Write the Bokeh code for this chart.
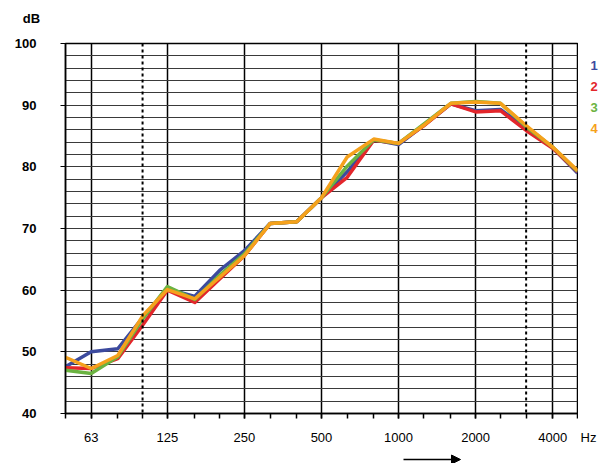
from bokeh.plotting import figure
from bokeh.models import Range1d, FixedTicker, Span, Arrow, NormalHead
from bokeh.layouts import row, column
from bokeh.core.properties import value
from bokeh.embed import file_html
from bokeh.resources import INLINE

freqs = [50, 63, 80, 100, 125, 160, 200, 250, 315, 400, 500, 630, 800,
         1000, 1250, 1600, 2000, 2500, 3150, 4000, 5000]
s1 = [47.6, 50.0, 50.5, 55.5, 60.2, 59.0, 63.2, 66.4, 70.8, 71.1, 75.0, 79.2, 84.4,
      83.6, 86.7, 90.2, 89.1, 89.3, 86.3, 83.1, 79.0]
s2 = [47.4, 47.3, 48.9, 54.3, 60.0, 58.0, 61.8, 65.6, 70.8, 71.1, 75.0, 78.3, 84.3,
      83.8, 86.6, 90.2, 88.9, 89.1, 85.9, 83.0, 79.2]
s3 = [47.0, 46.5, 49.2, 55.3, 60.6, 58.5, 62.4, 65.9, 70.8, 71.1, 75.0, 80.1, 84.4,
      83.8, 86.9, 90.3, 90.6, 90.3, 86.5, 83.2, 79.3]
s4 = [49.1, 47.3, 49.4, 55.8, 60.1, 58.6, 62.1, 65.6, 70.8, 71.1, 75.0, 81.6, 84.5,
      83.8, 86.7, 90.3, 90.5, 90.3, 86.7, 83.2, 79.4]
series_names = ["1", "2", "3", "4"]
colors = ["#3c4a9e", "#e3262b", "#6bb341", "#f5a11c"]

octave_ticks = [63, 125, 250, 500, 1000, 2000, 4000]
octave_labels = ["63", "125", "250", "500", "1000", "2000", "4000"]
dotted_freqs = [100, 3150]
y_major = [40, 50, 60, 70, 80, 90, 100]
y_grid = list(range(40, 101, 2))
y_unit = "dB"
x_unit = "Hz"

FONT = "Liberation Sans"

# layout geometry (page pixels)
W, H = 600, 463
TOP_H = 30          # strip holding "dB"
BOTTOM_H = 13       # strip holding the arrow
MAIN_W = 578        # main figure width (frame right edge at 577)
MAIN_H = H - TOP_H - BOTTOM_H


def blank(width, height, x0, x1, y_top, y_bottom):
    f = figure(width=width, height=height, output_backend="svg",
               toolbar_location=None, x_axis_type=None, y_axis_type=None,
               x_range=Range1d(x0, x1), y_range=Range1d(y_bottom, y_top),
               min_border=0, min_border_left=0, min_border_right=0,
               min_border_top=0, min_border_bottom=0)
    if "frame_align" in f.properties():
        f.frame_align = False
    f.outline_line_color = None
    f.grid.visible = False
    f.background_fill_color = "white"
    f.border_fill_color = "white"
    return f


# ---------------- main chart ----------------
p = figure(width=MAIN_W, height=MAIN_H, x_axis_type="log",
           x_range=Range1d(50, 5000), y_range=Range1d(40, 100),
           output_backend="svg", toolbar_location=None,
           min_border_left=65, min_border_right=1,
           min_border_top=13, min_border_bottom=37)
p.background_fill_color = "white"
p.border_fill_color = "white"
p.outline_line_color = "black"
p.outline_line_width = 1.5

p.xgrid.ticker = FixedTicker(ticks=octave_ticks)
p.xgrid.grid_line_color = "black"
p.xgrid.grid_line_width = 1.5
p.ygrid.ticker = FixedTicker(ticks=y_grid)
p.ygrid.grid_line_color = "#3a3a3a"
p.ygrid.grid_line_width = 1.2
for f in dotted_freqs:
    p.add_layout(Span(location=f, dimension="height", line_color="black",
                      line_width=2, line_dash="3 3"))

xa = p.xaxis[0]
xa.ticker = FixedTicker(ticks=octave_ticks, minor_ticks=freqs)
xa.major_label_overrides = {t: l for t, l in zip(octave_ticks, octave_labels)}
xa.axis_line_color = "black"
xa.axis_line_width = 1.5
xa.major_tick_out = 5
xa.major_tick_in = 0
xa.minor_tick_out = 5
xa.minor_tick_in = 0
xa.major_tick_line_color = "black"
xa.minor_tick_line_color = "black"
xa.major_tick_line_width = 1.5
xa.minor_tick_line_width = 1.5
xa.major_label_standoff = 14
xa.major_label_text_font = FONT
xa.major_label_text_font_size = "13px"
xa.major_label_text_color = "black"

ya = p.yaxis[0]
ya.ticker = FixedTicker(ticks=y_major)
ya.axis_line_color = "black"
ya.axis_line_width = 1.5
ya.major_tick_out = 5
ya.major_tick_in = 0
ya.minor_tick_line_color = None
ya.major_tick_line_color = "black"
ya.major_label_standoff = 24
ya.major_label_text_font = FONT
ya.major_label_text_font_size = "13px"
ya.major_label_text_font_style = "bold"
ya.major_label_text_color = "black"

for vals, c in zip([s1, s2, s3, s4], colors):
    p.line(freqs, vals, line_color=c, line_width=3.5, line_join="round")

# ---------------- top strip: unit "dB" ----------------
t = blank(W, TOP_H, 0, W, 0, TOP_H)
t.text(x=[31], y=[18], text=[y_unit], text_font=value(FONT),
       text_font_size="13px", text_font_style="bold", text_color="black",
       text_align="center", text_baseline="middle")

# ---------------- right strip: series numbers and "Hz" ----------------
q = blank(W - MAIN_W, MAIN_H, MAIN_W, W, TOP_H, TOP_H + MAIN_H)
legend_y = [65, 86, 107, 128]
q.text(x=[590] * len(series_names), y=legend_y, text=series_names,
       text_color=colors, text_font=value(FONT), text_font_size="13px",
       text_font_style="bold", text_align="left", text_baseline="middle")
q.text(x=[588], y=[437], text=[x_unit], text_font=value(FONT),
       text_font_size="13px", text_color="black",
       text_align="center", text_baseline="middle")

# ---------------- bottom strip: arrow ----------------
r = blank(W, BOTTOM_H, 0, W, TOP_H + MAIN_H, H)
r.add_layout(Arrow(x_start=403, y_start=459, x_end=460, y_end=459,
                   line_color="black", line_width=1.3,
                   end=NormalHead(size=9, fill_color="black", line_color="black")))

layout = column(t, row(p, q, spacing=0), r, spacing=0)
open("out.html", "w").write(file_html(layout, INLINE))
